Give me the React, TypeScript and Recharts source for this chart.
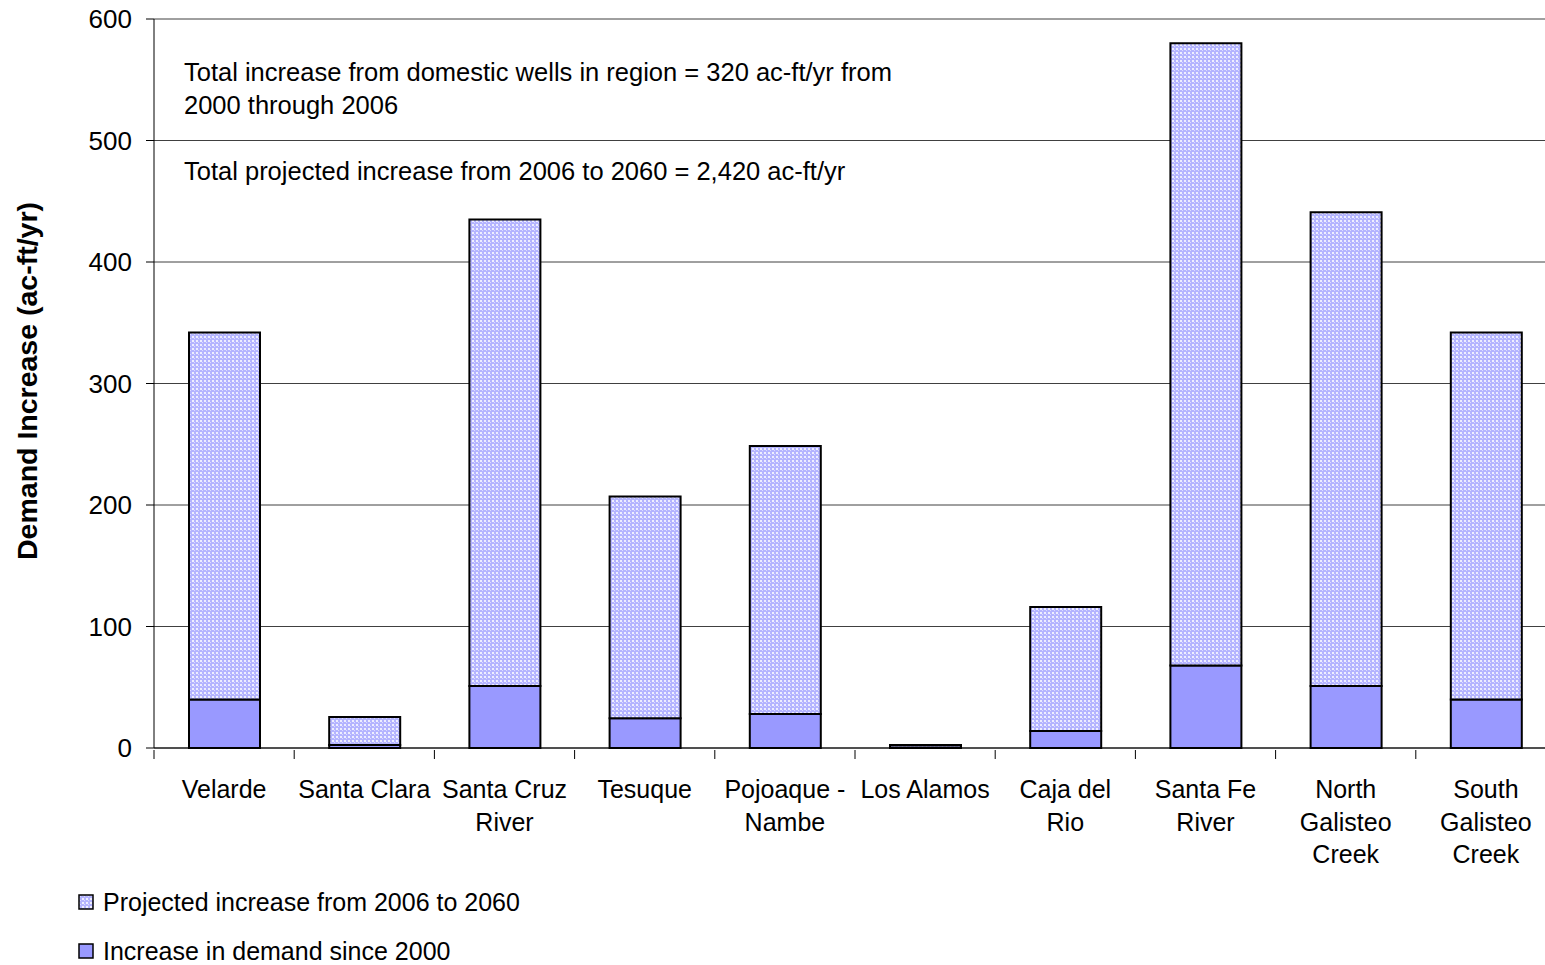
import React from 'react';
import { BarChart, Bar, XAxis, YAxis, CartesianGrid } from 'recharts';

const regions = [
  'Velarde',
  'Santa Clara',
  'Santa Cruz River',
  'Tesuque',
  'Pojoaque - Nambe',
  'Los Alamos',
  'Caja del Rio',
  'Santa Fe River',
  'North Galisteo Creek',
  'South Galisteo Creek',
];
const regionLines = [
  ['Velarde'],
  ['Santa Clara'],
  ['Santa Cruz', 'River'],
  ['Tesuque'],
  ['Pojoaque -', 'Nambe'],
  ['Los Alamos'],
  ['Caja del', 'Rio'],
  ['Santa Fe', 'River'],
  ['North', 'Galisteo', 'Creek'],
  ['South', 'Galisteo', 'Creek'],
];
const since2000 = [40, 2.5, 51, 24.5, 28, 0.5, 14, 68, 51, 40];
const projected = [302, 23, 384, 182.5, 220.5, 2, 102, 512, 390, 302];
const yTicks = [0, 100, 200, 300, 400, 500, 600];

const data = regions.map((name, i) => ({
  name,
  since: since2000[i],
  projected: projected[i],
}));

const FONT = '"Liberation Sans", Arial, sans-serif';
const SOLID = '#9999ff';

const CatTick = (props: any) => {
  const { x, y, payload, index } = props;
  const half = payload?.offset ?? 70.1;
  const lines = regionLines[index] || [payload.value];
  return (
    <g>
      <line x1={x - half} y1={y} x2={x - half} y2={y + 9} stroke="#000" />
      {index === regions.length - 1 && (
        <line x1={x + half} y1={y} x2={x + half} y2={y + 9} stroke="#000" />
      )}
      <text x={x} y={y + 48} textAnchor="middle" fontSize={25} fontFamily={FONT} fill="#000">
        {lines.map((l: string, k: number) => (
          <tspan key={k} x={x} dy={k === 0 ? 0 : 32.5}>
            {l}
          </tspan>
        ))}
      </text>
    </g>
  );
};

const legendItems = [
  { label: 'Projected increase from 2006 to 2060', fill: 'url(#dots)' },
  { label: 'Increase in demand since 2000', fill: SOLID },
];

const App = () => {
  return (
    <div
      style={{
        position: 'absolute',
        left: 0,
        top: 0,
        width: 1545,
        height: 965,
        overflow: 'hidden',
        background: '#fff',
        fontFamily: FONT,
      }}
    >
      <svg width={0} height={0} style={{ position: 'absolute' }}>
        <defs>
          <pattern id="dots" width={4} height={4} patternUnits="userSpaceOnUse">
            <rect width={4} height={4} fill="#b4b4ff" />
            <rect x={0} y={0} width={2} height={2} fill="#eeeeff" />
            <rect x={2} y={2} width={1} height={1} fill="#dcdcff" />
          </pattern>
        </defs>
      </svg>
      <BarChart
        width={1556}
        height={965}
        data={data}
        margin={{ top: 19, right: 0, bottom: 216, left: 94 }}
        barSize={71}
      >
        <CartesianGrid vertical={false} stroke="#404040" strokeWidth={1} />
        <XAxis
          dataKey="name"
          interval={0}
          tickLine={false}
          tickSize={0}
          height={1}
          axisLine={{ stroke: '#000' }}
          tick={<CatTick />}
        />
        <YAxis
          width={60}
          domain={[0, 600]}
          ticks={yTicks}
          tickSize={8}
          tickMargin={14}
          axisLine={{ stroke: '#000' }}
          tickLine={{ stroke: '#000' }}
          tick={{ fontSize: 26, fontFamily: FONT, fill: '#000' }}
        />
        <Bar
          dataKey="since"
          name="Increase in demand since 2000"
          stackId="a"
          fill={SOLID}
          stroke="#000"
          strokeWidth={2}
          isAnimationActive={false}
        />
        <Bar
          dataKey="projected"
          name="Projected increase from 2006 to 2060"
          stackId="a"
          fill="url(#dots)"
          stroke="#000"
          strokeWidth={2}
          isAnimationActive={false}
        />
      </BarChart>
      <div style={{ position: 'absolute', left: 78, top: 878, fontSize: 25, color: '#000' }}>
        {legendItems.map((it, i) => (
          <div key={i} style={{ display: 'flex', alignItems: 'center', height: 49 }}>
            <svg width={17} height={17} style={{ marginRight: 8 }}>
              <rect x={1} y={1} width={14} height={14} fill={it.fill} stroke="#000" strokeWidth={1.5} />
            </svg>
            <span>{it.label}</span>
          </div>
        ))}
      </div>
      <div
        style={{
          position: 'absolute',
          left: 27,
          top: 381,
          transform: 'translate(-50%, -50%) rotate(-90deg)',
          whiteSpace: 'nowrap',
          fontSize: 28.5,
          fontWeight: 'bold',
          color: '#000',
        }}
      >
        Demand Increase (ac-ft/yr)
      </div>
      <div style={{ position: 'absolute', left: 184, top: 56, fontSize: 25.5, lineHeight: '32.5px', color: '#000' }}>
        Total increase from domestic wells in region = 320 ac-ft/yr from
        <br />
        2000 through 2006
      </div>
      <div style={{ position: 'absolute', left: 184, top: 155, fontSize: 25.5, lineHeight: '32.5px', color: '#000' }}>
        Total projected increase from 2006 to 2060 = 2,420 ac-ft/yr
      </div>
    </div>
  );
};

export default App;
